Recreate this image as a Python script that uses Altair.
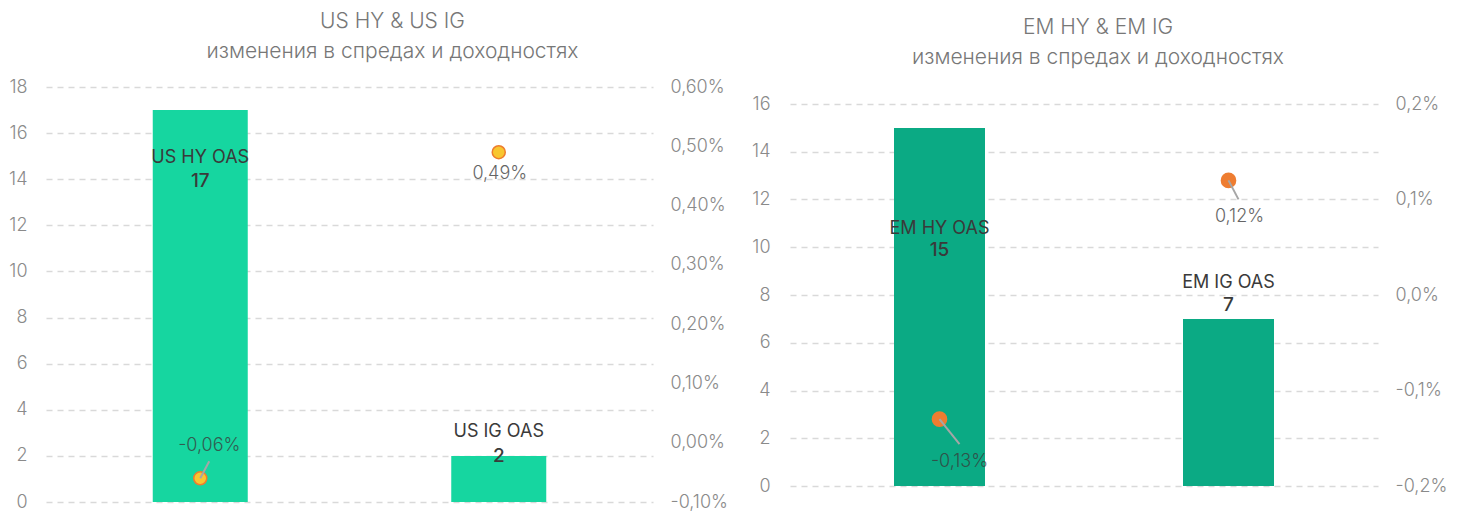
import altair as alt
import pandas as pd

# ---------------- data ----------------
us_categories = ["US HY OAS", "US IG OAS"]
us_spread_change = [17, 2]
us_yield_change = [-0.06, 0.49]
us_spread_ticks = [0, 2, 4, 6, 8, 10, 12, 14, 16, 18]
us_yield_ticks = [-0.1, 0.0, 0.1, 0.2, 0.3, 0.4, 0.5, 0.6]

em_categories = ["EM HY OAS", "EM IG OAS"]
em_spread_change = [15, 7]
em_yield_change = [-0.13, 0.12]
em_spread_ticks = [0, 2, 4, 6, 8, 10, 12, 14, 16]
em_yield_ticks = [-0.2, -0.1, 0.0, 0.1, 0.2]

us_title = "US HY & US IG"
em_title = "EM HY & EM IG"
subtitle_text = "изменения в спредах и доходностях"

# ---------------- styles ----------------
FONT = "Inter"
TICK_COLOR = "#8a8a8a"
TITLE_COLOR = "#777777"

us_style = dict(
    width=607, height=415, top_pad=0, bar=95, bar_color="#16D6A0",
    dot_fill="#F8C630", dot_stroke="#EE7D2E", dot_size=170,
    name_dy=[48, -24], value_dy=[71, 0],
    lbl_off=[(9, -32), (1, 22)], leader=[(9, -17), None],
    decimals=2, title_dx=43, title_offset=16,
    left_pad=19, left_ext=37, right_pad=17, right_ext=80,
)
em_style = dict(
    width=588, height=399, top_pad=17, bar=91, bar_color="#0BAA84",
    dot_fill="#EE7D31", dot_stroke="#EE7D31", dot_size=200,
    name_dy=[101, -36], value_dy=[122, -14],
    lbl_off=[(20, 43), (11, 37)], leader=[(20, 25), (10, 19)],
    decimals=1, title_dx=14, title_offset=19,
    left_pad=20, left_ext=40, right_pad=17, right_ext=68,
)


def padded_domain(ticks, st):
    lo, hi = ticks[0], ticks[-1]
    inner = st["height"] - st["top_pad"]
    return [lo, hi + (hi - lo) * st["top_pad"] / inner]


def panel(title, cats, spread, yld, s_ticks, y_ticks, st):
    df = pd.DataFrame({"idx": list(range(len(cats))), "cat": cats,
                       "spread": spread, "yld": yld})
    base = alt.Chart(df)
    x = alt.X("idx:Q", scale=alt.Scale(domain=[-0.5, len(cats) - 0.5], nice=False),
              axis=None)
    yS = alt.Y("spread:Q", title=None,
               scale=alt.Scale(domain=padded_domain(s_ticks, st), nice=False, zero=False),
               axis=alt.Axis(orient="left", values=s_ticks, grid=True, gridDash=[6, 5],
                             gridColor="#d9d9d9", gridWidth=1.6, domain=False, ticks=False,
                             labelPadding=st["left_pad"], minExtent=st["left_ext"],
                             maxExtent=st["left_ext"], labelColor=TICK_COLOR,
                             labelFont=FONT, labelFontSize=18, labelFontWeight=300))
    fmt = ".%df" % st["decimals"]
    yY = alt.Y("yld:Q", title=None,
               scale=alt.Scale(domain=padded_domain(y_ticks, st), nice=False, zero=False),
               axis=alt.Axis(orient="right", values=y_ticks, grid=False, domain=False,
                             ticks=False, labelPadding=st["right_pad"],
                             minExtent=st["right_ext"], maxExtent=st["right_ext"],
                             labelColor=TICK_COLOR, labelFont=FONT, labelFontSize=18,
                             labelFontWeight=300,
                             labelExpr="replace(replace(format(datum.value, '%s'), '.', ','), '\u2212', '-') + '%%'" % fmt))

    bars = base.mark_bar(size=st["bar"], color=st["bar_color"]).encode(x=x, y=yS)
    spread_layers = [bars]
    for i in range(len(cats)):
        f = base.transform_filter(alt.datum.idx == i)
        spread_layers.append(
            f.mark_text(dy=st["name_dy"][i], font=FONT, fontSize=18, color="#3a3a3a",
                        baseline="middle").encode(x=x, y=yS, text="cat:N"))
        spread_layers.append(
            f.mark_text(dy=st["value_dy"][i], font=FONT, fontSize=19, fontWeight=500,
                        color="#3a3a3a", baseline="middle").encode(x=x, y=yS, text="spread:Q"))
    left_group = alt.layer(*spread_layers)

    points = base.mark_point(filled=True, size=st["dot_size"], fill=st["dot_fill"],
                             stroke=st["dot_stroke"], strokeWidth=1.5, opacity=1
                             ).encode(x=x, y=yY)
    yield_layers = [points]
    for i in range(len(cats)):
        f = base.transform_filter(alt.datum.idx == i)
        if st["leader"][i] is not None:
            ldx, ldy = st["leader"][i]
            yield_layers.append(
                f.mark_rule(x2Offset=ldx, y2Offset=ldy, color="#a6a6a6", strokeWidth=2
                            ).encode(x=x, x2=alt.X2("idx:Q"), y=yY, y2=alt.Y2("yld:Q")))
    for i in range(len(cats)):
        f = base.transform_filter(alt.datum.idx == i)
        dx, dy = st["lbl_off"][i]
        yield_layers.append(
            f.transform_calculate(
                lbl="replace(replace(format(datum.yld, '.2f'), '.', ','), '\u2212', '-') + '%'"
            ).mark_text(dx=dx, dy=dy, font=FONT, fontSize=18, fontWeight=300,
                        color="#3a3a3a", opacity=0.78, baseline="middle"
                        ).encode(x=x, y=yY, text="lbl:N"))
    right_group = alt.layer(*yield_layers)

    return alt.layer(left_group, right_group).resolve_scale(y="independent").properties(
        width=st["width"], height=st["height"],
        title=alt.TitleParams(
            text=title, subtitle=subtitle_text, anchor="middle", frame="group",
            dx=st["title_dx"], font=FONT, fontSize=21, fontWeight=300, color=TITLE_COLOR,
            subtitleFont=FONT, subtitleFontSize=21, subtitleFontWeight=300,
            subtitleColor=TITLE_COLOR, subtitlePadding=9, offset=st["title_offset"]))


us_chart = panel(us_title, us_categories, us_spread_change, us_yield_change,
                 us_spread_ticks, us_yield_ticks, us_style)
em_chart = panel(em_title, em_categories, em_spread_change, em_yield_change,
                 em_spread_ticks, em_yield_ticks, em_style)

chart = alt.hconcat(us_chart, em_chart, spacing=17).properties(
    padding={"left": 0, "top": 3, "right": 0, "bottom": 0}
).configure(font=FONT, view=alt.ViewConfig(stroke=None))

chart.save("out.html", embed_options={"renderer": "svg", "actions": False})
